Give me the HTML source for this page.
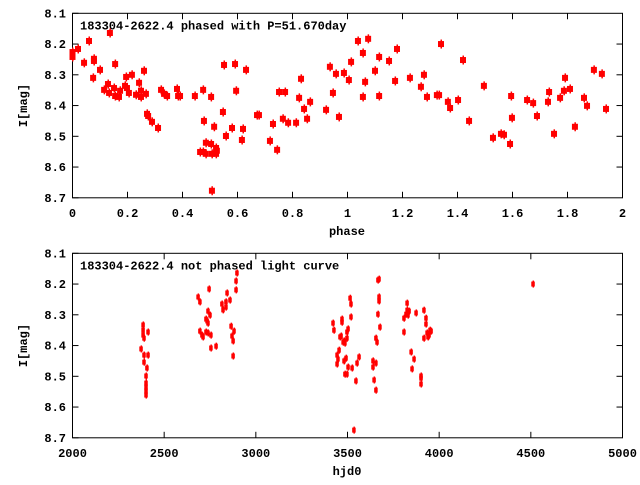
<!DOCTYPE html>
<html><head><meta charset="utf-8">
<style>
html,body{margin:0;padding:0;background:#fff;}
svg text{font-family:"Liberation Mono","DejaVu Sans Mono",monospace;font-weight:bold;font-size:12px;fill:#000;}
</style></head>
<body>
<svg id="chart" width="640" height="480" viewBox="0 0 640 480" xmlns="http://www.w3.org/2000/svg">
<rect x="0" y="0" width="640" height="480" fill="#fff"/>
<g id="top"></g>
<g id="bot"></g>
</svg>
<script>
const phaseVals=[0.00,0.00,0.02,0.042,0.06,0.078,0.078,0.075,0.10,0.115,0.129,0.133,0.136,0.151,0.155,0.155,0.169,0.173,0.191,0.195,0.198,0.205,0.216,0.231,0.242,0.249,0.249,0.26,0.267,0.271,0.275,0.289,0.311,0.322,0.333,0.344,0.38,0.384,0.391,0.445,0.475,0.478,0.485,0.464,0.475,0.485,0.504,0.504,0.507,0.507,0.515,0.522,0.522,0.525,0.547,0.551,0.558,0.58,0.591,0.595,0.616,0.62,0.631,0.671,0.678,0.718,0.729,0.744,0.751,0.765,0.773,0.784,0.813,0.824,0.831,0.842,0.853,0.864,0.922,0.936,0.947,0.958,0.969,0.987,1.005,1.013,1.038,1.056,1.056,1.064,1.075,1.10,1.115,1.115,1.151,1.173,1.18,1.227,1.267,1.278,1.289,1.325,1.333,1.34,1.365,1.373,1.402,1.42,1.442,1.496,1.529,1.558,1.569,1.591,1.595,1.598,1.653,1.675,1.689,1.729,1.733,1.751,1.773,1.787,1.791,1.809,1.827,1.86,1.871,1.896,1.925,1.94];
const phaseMags=[8.226,8.242,8.216,8.261,8.190,8.248,8.255,8.310,8.284,8.349,8.330,8.359,8.164,8.343,8.265,8.369,8.372,8.352,8.336,8.307,8.343,8.359,8.300,8.365,8.326,8.352,8.372,8.287,8.362,8.427,8.434,8.453,8.473,8.349,8.362,8.369,8.346,8.369,8.369,8.369,8.349,8.450,8.521,8.551,8.551,8.557,8.525,8.372,8.677,8.557,8.469,8.557,8.538,8.547,8.421,8.268,8.499,8.473,8.265,8.352,8.512,8.476,8.284,8.431,8.431,8.515,8.460,8.544,8.356,8.443,8.356,8.456,8.456,8.375,8.313,8.411,8.443,8.388,8.414,8.274,8.359,8.297,8.437,8.294,8.317,8.258,8.190,8.229,8.372,8.323,8.183,8.287,8.242,8.369,8.255,8.320,8.216,8.310,8.339,8.300,8.372,8.366,8.366,8.200,8.388,8.408,8.382,8.252,8.450,8.336,8.505,8.492,8.495,8.525,8.369,8.440,8.382,8.392,8.434,8.388,8.356,8.492,8.375,8.352,8.310,8.346,8.469,8.375,8.401,8.284,8.297,8.411];
const hjdVals=[2374,2385,2385,2385,2390,2390,2390,2406,2401,2401,2401,2401,2401,2412,2412,2685,2695,2695,2706,2712,2728,2734,2739,2739,2750,2728,2739,2745,2755,2755,2783,2815,2821,2837,2837,2843,2859,2865,2870,2876,2876,2881,2892,2892,2897,3421,3426,3443,3443,3448,3454,3459,3465,3470,3470,3476,3481,3481,3486,3486,3492,3497,3497,3497,3503,3503,3514,3519,3519,3525,3535,3546,3552,3563,3639,3639,3645,3655,3655,3655,3661,3666,3666,3672,3672,3672,3677,3808,3808,3819,3825,3825,3830,3836,3847,3852,3863,3874,3901,3901,3901,3917,3928,3928,3934,3917,3939,3945,3950,3956,4512];
const hjdMags=[8.411,8.333,8.350,8.366,8.376,8.431,8.454,8.473,8.499,8.522,8.535,8.548,8.561,8.356,8.431,8.242,8.258,8.353,8.366,8.372,8.314,8.320,8.327,8.288,8.301,8.356,8.359,8.216,8.366,8.408,8.402,8.265,8.284,8.258,8.275,8.229,8.252,8.337,8.369,8.385,8.434,8.353,8.219,8.190,8.164,8.327,8.350,8.431,8.460,8.444,8.415,8.372,8.369,8.314,8.324,8.389,8.385,8.450,8.392,8.493,8.441,8.493,8.356,8.376,8.346,8.470,8.246,8.265,8.307,8.473,8.675,8.515,8.457,8.437,8.450,8.470,8.512,8.376,8.457,8.545,8.389,8.298,8.187,8.184,8.242,8.255,8.340,8.311,8.356,8.298,8.262,8.285,8.301,8.288,8.421,8.476,8.444,8.294,8.499,8.525,8.506,8.285,8.311,8.330,8.359,8.376,8.372,8.366,8.350,8.353,8.200];
const magTicks=[8.1,8.2,8.3,8.4,8.5,8.6,8.7];
const phaseTicks=[0,0.2,0.4,0.6,0.8,1,1.2,1.4,1.6,1.8,2];
const phaseTickLabels=["0","0.2","0.4","0.6","0.8","1","1.2","1.4","1.6","1.8","2"];
const hjdTicks=[2000,2500,3000,3500,4000,4500,5000];

const NS="http://www.w3.org/2000/svg";
function mk(tag,attrs,parent){const e=document.createElementNS(NS,tag);for(const k in attrs)e.setAttribute(k,attrs[k]);parent.appendChild(e);return e;}

function panel(g,cfg){
  const L=72.5,R=622.5,T=cfg.top,B=cfg.top+184.5;
  const sx=v=>L+(v-cfg.xmin)/(cfg.xmax-cfg.xmin)*(R-L);
  const sy=v=>T+(v-8.1)/0.6*(B-T);
  magTicks.forEach(t=>{
    const y=sy(t);
    const l1=mk('line',{x1:L,y1:y,x2:L+6,y2:y,stroke:'#000'},g);
    
    
    if(t>8.1&&t<8.7){const l2=mk('line',{x1:R-6,y1:y,x2:R,y2:y,stroke:'#000'},g);
      
      }
    const tx=mk('text',{x:66,y:y+4,'text-anchor':'end'},g);
    tx.textContent=t.toFixed(1);
    
    
  });
  cfg.ticks.forEach((t,i)=>{
    const x=sx(t);
    if(i>0&&i<cfg.ticks.length-1){
      const a=mk('line',{x1:x,y1:B,x2:x,y2:B-6,stroke:'#000'},g);
      
      
      const b=mk('line',{x1:x,y1:T,x2:x,y2:T+6,stroke:'#000'},g);
      
      
    }
    const tx=mk('text',{x:x,y:B+19,'text-anchor':'middle'},g);
    tx.textContent=cfg.labels[i];
    
    
  });
  const fr=mk('rect',{x:L,y:T,width:R-L,height:B-T,fill:'none',stroke:'#000','stroke-width':1},g);
  
  
  const xl=mk('text',{x:347,y:B+37,'text-anchor':'middle'},g);
  xl.textContent=cfg.xlabel;
  
  
  const yl=mk('text',{x:0,y:0,'text-anchor':'middle',transform:`translate(27,${(T+B)/2}) rotate(-90)`},g);
  yl.textContent='I[mag]';
  
  
  const ti=mk('text',{x:80,y:T+16},g);
  ti.textContent=cfg.title;
  
  
  cfg.xs.forEach((v,i)=>{
    const x=sx(v),y=sy(cfg.ys[i]);
    const pg=mk('g',{},g);
    
    
    mk('rect',{x:x-0.5,y:y-cfg.eh/2,width:1.5,height:cfg.eh,fill:'#f00'},pg);
    mk('rect',{x:x-cfg.mw/2,y:y-cfg.mh/2,width:cfg.mw,height:cfg.mh,fill:'#f00'},pg);
  });
}
panel(document.getElementById('top'),{top:13.3,xmin:0,xmax:2,ticks:phaseTicks,labels:phaseTickLabels,xs:phaseVals,ys:phaseMags,xlabel:'phase',title:'183304-2622.4 phased with P=51.670day',mw:6,mh:6,eh:9});
panel(document.getElementById('bot'),{top:253.3,xmin:2000,xmax:5000,ticks:hjdTicks,labels:hjdTicks.map(String),xs:hjdVals,ys:hjdMags,xlabel:'hjd0',title:'183304-2622.4 not phased light curve',mw:3.5,mh:5,eh:7});
</script>
</body></html>
